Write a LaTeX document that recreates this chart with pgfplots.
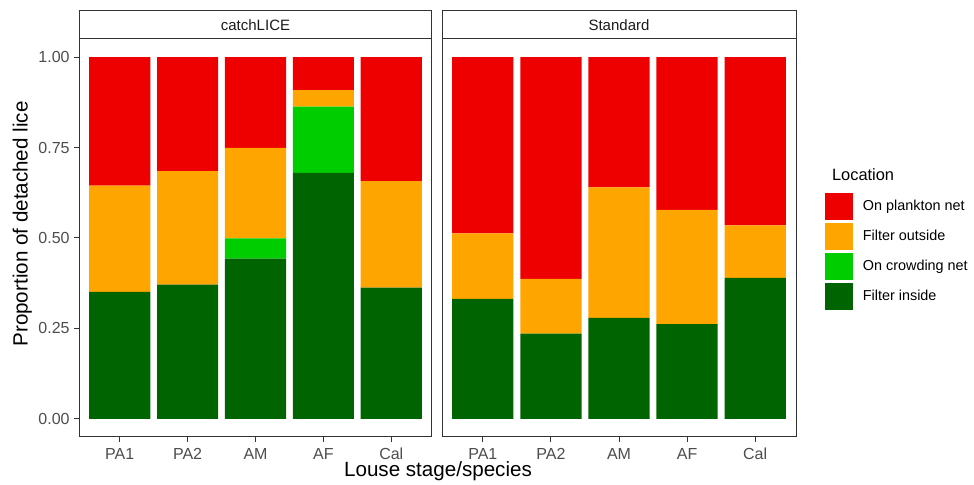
\documentclass[border=0pt]{standalone}
\usepackage{fontspec}
\setmainfont{Liberation Sans}
\usepackage{pgfplots}
\usepackage{pgfplotstable}
\pgfplotsset{compat=1.18}
\definecolor{cPlank}{HTML}{EE0000}
\definecolor{cOut}{HTML}{FFA500}
\definecolor{cCrowd}{HTML}{00CD00}
\definecolor{cIn}{HTML}{006400}
\definecolor{grey20}{HTML}{333333}
\definecolor{grey30}{HTML}{4D4D4D}
\definecolor{grey10}{HTML}{1A1A1A}

\pgfplotstableread{
x inside crowd outside plank
1 0.351 0.000 0.294 0.355
2 0.371 0.000 0.314 0.315
3 0.443 0.056 0.250 0.251
4 0.680 0.183 0.046 0.091
5 0.363 0.000 0.294 0.343
}\catchdata

\pgfplotstableread{
x inside crowd outside plank
1 0.332 0.000 0.181 0.487
2 0.236 0.000 0.151 0.613
3 0.279 0.000 0.361 0.360
4 0.262 0.000 0.316 0.422
5 0.390 0.000 0.145 0.465
}\standarddata

\pgfplotsset{
  facet/.style={
    scale only axis, height=199pt,
    xmin=0.4, xmax=5.6, ymin=-0.05, ymax=1.05,
    ybar stacked, bar width=0.9,
    axis line style={grey20, line width=0.5pt},
    xtick={1,2,3,4,5}, xticklabels={PA1,PA2,AM,AF,Cal},
    xtick pos=left, ytick pos=left,
    tick align=outside, major tick length=2.5pt,
    tick style={grey20, line width=0.5pt},
    ticklabel style={font=\fontsize{8}{9.6}\selectfont, text=grey30},
    xticklabel style={inner sep=0pt, anchor=north, text height=5.75pt, text depth=0pt, yshift=-2.6pt},
    yticklabel style={inner sep=0pt, anchor=east, xshift=-2pt},
    every axis plot post/.append style={draw=none,
      legend image code/.code={\fill[##1] (0pt,-6.875pt) rectangle (13.75pt,6.875pt);}},
  }
}

\begin{document}
\begin{tikzpicture}
\path[use as bounding box] (0,0) rectangle (487pt,242.5pt);

\begin{axis}[facet, name=L, at={(39.5pt,24pt)}, anchor=south west, width=176.5pt,
  ytick={0,0.25,0.5,0.75,1}, yticklabels={0.00,0.25,0.50,0.75,1.00}]
\addplot[fill=cIn] table[x=x, y=inside] {\catchdata};
\addplot[fill=cCrowd] table[x=x, y=crowd] {\catchdata};
\addplot[fill=cOut] table[x=x, y=outside] {\catchdata};
\addplot[fill=cPlank] table[x=x, y=plank] {\catchdata};
\end{axis}

\begin{axis}[facet, name=R, at={(221pt,24pt)}, anchor=south west, width=177pt,
  ytick=\empty,
  reverse legend,
  legend style={at={(axis description cs:1,1)}, anchor=north west,
    xshift=14.5pt, yshift=-76.6pt, draw=none, fill=none, inner sep=0pt,
    row sep=1.25pt, column sep=5pt, nodes={inner sep=0pt},
    font=\fontsize{7.2}{8.8}\selectfont},
  legend cell align=left]
\addplot[fill=cIn] table[x=x, y=inside] {\standarddata};
\addlegendentry{Filter inside}
\addplot[fill=cCrowd] table[x=x, y=crowd] {\standarddata};
\addlegendentry{On crowding net}
\addplot[fill=cOut] table[x=x, y=outside] {\standarddata};
\addlegendentry{Filter outside}
\addplot[fill=cPlank] table[x=x, y=plank] {\standarddata};
\addlegendentry{On plankton net}
\end{axis}

\draw[grey20, line width=0.5pt] (L.north west) rectangle ([yshift=14pt]L.north east);
\node[text=grey10, font=\fontsize{7.5}{9}\selectfont] at ([yshift=7pt]L.north) {catchLICE};
\draw[grey20, line width=0.5pt] (R.north west) rectangle ([yshift=14pt]R.north east);
\node[text=grey10, font=\fontsize{7.5}{9}\selectfont] at ([yshift=7pt]R.north) {Standard};

\node[anchor=base, font=\fontsize{10.3}{12}\selectfont] at (219pt,4.15pt) {Louse stage/species};
\node[anchor=base, rotate=90, font=\fontsize{10.3}{12}\selectfont] at (13.8pt,130.5pt) {Proportion of detached lice};
\node[anchor=base west, font=\fontsize{8.2}{10}\selectfont] at (412.5pt,152.2pt) {Location};
\end{tikzpicture}
\end{document}
